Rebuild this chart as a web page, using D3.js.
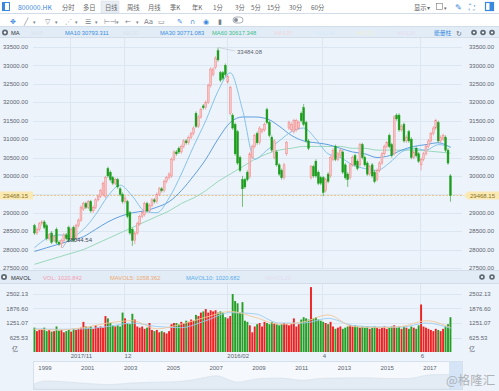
<!DOCTYPE html>
<html><head><meta charset="utf-8">
<script src="https://cdn.jsdelivr.net/npm/d3@7/dist/d3.min.js"></script>
<style>
body{margin:0;background:#fff}
svg{display:block;font-family:"Liberation Sans",Arial,"Noto Sans CJK SC",sans-serif}
</style>
</head><body><div id="chart"></div>
<script>
// daily candles
var opens = [28650,28450,28550,28700,28750,28650,28300,28450,28250,28550,
28200,28150,28250,28400,28600,28300,28600,28300,28650,28800,
29100,29250,29150,29300,29050,29150,29350,29450,29500,29450,
30200,30100,29950,29800,29900,29650,29500,29300,29300,29000,
28550,28250,28450,28700,28900,28950,29250,29050,29200,29350,
29300,29500,29650,29600,29850,29950,30000,30450,30650,30750,
30650,30800,30950,30900,31050,31150,31700,31350,31600,31900,
31850,32000,32450,32750,32950,33400,32800,32800,33000,32550,
31700,31650,31400,31200,30500,29900,29900,30100,29980,30500,
30800,31150,30900,31200,31250,31800,31450,31050,30500,30650,
30300,30150,29950,30600,31300,31250,31200,31250,31300,31700,
31850,31450,30950,29950,30250,30400,30100,29950,29950,29600,
30050,30000,30450,30800,30450,30550,30650,30300,30050,29950,
30300,30550,30400,30300,30850,30500,30350,30050,30300,30100,
29900,30150,30350,30600,30800,31100,30850,30600,31650,31650,
31250,31400,30950,31200,31000,30500,30750,30600,30300,30450,
30600,30800,30950,31150,31300,31450,30950,31000,31050,30700,30000];
var closes = [28450,28550,28700,28750,28600,28300,28400,28200,28350,28200,
28150,28250,28400,28300,28250,28550,28250,28650,28800,29150,
29250,29150,29300,29050,29150,29350,29450,29600,29800,29950,
30000,29900,29800,29900,29700,29500,29300,29400,28900,28450,
28250,28450,28700,28900,29000,29250,29050,29200,29350,29300,
29500,29650,29600,29850,29950,30050,30450,30650,30600,30650,
30800,30950,30900,31050,31150,31300,31350,31600,31800,31850,
32000,32450,32900,32900,33200,33150,32600,32650,32750,32700,
32400,31300,30600,30350,30150,29650,29700,29900,30600,30800,
31100,30900,31300,31250,31400,31450,31100,30700,30950,30300,
30050,29950,30300,30900,31450,31400,31500,31500,31450,31500,
31400,30950,30750,30250,30000,30000,29800,29800,29550,29900,
29850,30500,30700,30450,30600,30700,30100,29950,29900,30300,
30500,30300,30200,30850,30500,30300,30050,30250,30000,29850,
30150,30350,30600,30800,30900,30800,30550,31600,31550,31250,
31350,30950,31050,30950,30500,30650,30550,30400,30450,30600,
30800,30950,31150,31300,31500,30950,31050,31100,30700,30350,29468.15];
var highs = [28700,28600,28750,28800,28800,28700,28450,28500,28400,28600,
28250,28300,28450,28450,28650,28600,28650,28700,28850,29200,
29300,29300,29350,29350,29200,29400,29500,29650,29850,30000,
30250,30150,30000,29950,29950,29700,29550,29450,29350,29050,
28600,28500,28750,28950,29050,29300,29300,29250,29400,29400,
29550,29700,29700,29900,30000,30100,30500,30700,30700,30800,
30850,31000,31000,31100,31200,31350,31750,31650,31850,31950,
32050,32500,32950,32950,33250,33484.08,32850,32850,33050,32750,
32450,31700,31450,31250,30550,30000,29950,30150,30650,30850,
31150,31200,31350,31300,31450,31850,31500,31100,31000,30700,
30350,30200,30350,30950,31500,31450,31550,31550,31500,31750,
31950,31500,31000,30300,30300,30450,30150,30000,30000,29950,
30100,30550,30750,30850,30650,30750,30700,30350,30100,30350,
30550,30600,30450,30900,30900,30550,30400,30300,30350,30150,
30200,30400,30650,30850,30950,31150,30900,31650,31700,31700,
31400,31450,31100,31250,31050,30700,30800,30650,30500,30650,
30850,31000,31200,31350,31550,31500,31100,31150,31100,30750,30050];
var lows = [28400,28400,28500,28650,28550,28250,28250,28150,28200,28150,
28100,28044.54,28200,28250,28200,28250,28200,28250,28600,28750,
29050,29100,29100,29000,29000,29100,29300,29400,29450,29400,
29950,29850,29750,29750,29650,29450,29250,29250,28850,28400,
28100,28150,28400,28650,28850,28900,29000,29000,29150,29250,
29250,29450,29550,29550,29800,29900,29950,30400,30550,30600,
30600,30750,30850,30850,31000,31100,31300,31300,31550,31800,
31800,31950,32400,32700,32900,33100,32550,32600,32700,32500,
31650,31250,30550,30300,30100,29160,29650,29850,29930,30450,
30750,30850,30850,31150,31200,31400,31050,30650,30450,30250,
30000,29900,29900,30550,31250,31200,31150,31200,31250,31450,
31350,30900,30700,29900,29950,29950,29750,29750,29450,29550,
29800,29950,30400,30400,30400,30500,30050,29900,29700,29900,
30250,30250,30150,30250,30450,30250,30000,30000,29950,29800,
29850,30100,30300,30550,30750,30750,30500,30550,31500,31200,
31200,30900,30900,30900,30450,30450,30500,30350,30150,30400,
30550,30750,30900,31100,31250,30900,30900,30950,30650,30300,29300];
// volume, 亿
var volumes = [1050,900,950,1000,1050,900,950,880,900,1100,920,950,
850,900,950,880,1000,950,
1000,1050,1300,1100,1050,1100,1000,1150,1050,1100,
1050,1550,1450,1250,1150,1100,
1150,1100,1700,1450,1250,1200,1650,
1400,1100,1050,1100,1000,1050,1250,950,900,950,
850,900,850,800,900,1200,1250,
1250,1200,1300,1250,1350,1300,1400,1350,
1600,1550,1700,1750,1850,1700,1800,
1750,1800,1700,1750,1700,1500,1450,1550,
2500,2200,2100,1700,2150,1350,1300,
1150,850,1100,1200,1250,1100,1300,1250,
1200,1300,1250,1200,1150,1200,1250,1200,
1150,1200,1450,1100,1200,1400,1500,1450,
1400,2800,1450,1500,1400,1350,1300,
1250,1200,1300,1100,1000,1050,1100,1000,1050,
1100,1150,1100,1150,1100,1050,1100,1050,1100,1000,1050,1100,1050,
1000,1050,1100,1000,1050,1100,1150,1050,1100,1000,1100,1050,1000,1100,1050,1000,1150,
2050,1100,1050,1000,950,900,1000,950,900,1000,1100,1200,1500];

// moving averages sampled every 5 bars
var maIdx = [0,5,10,15,20,25,30,35,40,45,50,55,60,65,70,75,80,85,90,95,100,105,110,115,120,125,130,135,140,145,150,155,160,165,170];
var ma10 = [28050,28300,28400,28350,28550,28950,29450,29750,29450,29050,29000,29400,30050,30800,31500,32300,32800,31800,30450,30700,30950,31200,31300,31000,30600,30500,30300,30200,30150,30350,30650,30750,30700,30850,30793];
var ma30 = [27950,28050,28150,28250,28350,28550,28750,28900,29000,29050,29150,29300,29600,30000,30450,31000,31450,31600,31600,31550,31350,31100,30950,30900,30850,30750,30650,30600,30500,30550,30700,30800,30850,30900,30771];
var ma60 = [27600,27700,27800,27900,28000,28150,28300,28450,28600,28750,28900,29050,29250,29400,29600,29850,30050,30250,30450,30600,30700,30750,30800,30800,30800,30800,30750,30750,30700,30700,30700,30700,30680,30650,30617];
// volume averages sampled every 10 bars
var volMaIdx = [0,10,20,30,40,50,60,70,80,90,100,110,120,130,140,150,160,170];
var mavol5 = [980,950,1050,1250,1350,1000,1200,1500,1750,1500,1200,1300,1600,1100,1050,1100,1350,1058];
var mavol10 = [1000,980,1000,1100,1250,1100,1050,1350,1700,1650,1250,1250,1450,1150,1080,1070,1250,1021];

var priceTicks = [27500,28000,28500,29000,29500,30000,30500,31000,31500,32000,32500,33000,33500];
var volTicks = [625.53,1251.07,1876.60,2502.13];
var monthIdx = [15,37,79,118,158];
var monthLabels = ["2017/11","12","2016/02","4","6"];
var lastPrice = 29468.15;

// navigator (long history)
var navYears = [1998,1999,2000,2001,2002,2003,2004,2005,2006,2007,2008,2009,2010,2011,2012,2013,2014,2015,2016,2017,2018];
var navValues = [10000,16900,15000,11400,9300,12500,14200,14900,19900,27800,14400,21800,23000,18400,22600,23300,23600,21900,22000,29900,30500];
var navLabels = [1999,2001,2003,2005,2007,2009,2011,2013,2015,2017];

var tabs = ["分时","多日","日线","周线","月线","季K","年K","1分","3分","5分","15分","30分","60分"];
var tabX = [62,83,105,127,148,170,192,213,235,251,267,289,311];

var W = 499, H = 391, N = closes.length;
var svg = d3.select("#chart").append("svg").attr("width", W).attr("height", H);

var bg = "#edf3fa", bar = "#e2ecf7", grid = "#dce6f1", axisText = "#5a6470";

// panels
svg.append("rect").attr("width", W).attr("height", H).attr("fill", "#fff");
svg.append("rect").attr("x", 0).attr("y", 27).attr("width", W).attr("height", 11).attr("fill", bar);
svg.append("rect").attr("x", 0).attr("y", 38).attr("width", W).attr("height", 233).attr("fill", bg);
svg.append("rect").attr("x", 0).attr("y", 271).attr("width", W).attr("height", 12).attr("fill", bar);
svg.append("rect").attr("x", 0).attr("y", 283).attr("width", W).attr("height", 108).attr("fill", bg);
[13.5, 26.5, 37.5, 270.5, 283.5].forEach(function(y) {
    svg.append("line").attr("x1", 0).attr("x2", W).attr("y1", y).attr("y2", y).attr("stroke", "#d2dde9");
});

// scales
var x = d3.scaleBand().domain(d3.range(N)).range([33, 33 + N * 2.45]).padding(0.22);
var step = x.step();
var cx = function(i) { return x(i) + x.bandwidth() / 2; };
var y = d3.scaleLinear().domain([27500, 33500]).range([268, 47]);
var yv = d3.scaleLinear().domain([0, 2502.13]).range([352, 294]);

// grids
var gridG = svg.append("g").attr("stroke", grid).attr("stroke-width", 1);
priceTicks.forEach(function(t) {
    gridG.append("line").attr("x1", 33).attr("x2", 462).attr("y1", Math.round(y(t)) + 0.5).attr("y2", Math.round(y(t)) + 0.5);
});
volTicks.forEach(function(t) {
    gridG.append("line").attr("x1", 33).attr("x2", 462).attr("y1", Math.round(yv(t)) + 0.5).attr("y2", Math.round(yv(t)) + 0.5);
});
monthIdx.forEach(function(i) {
    var gx = Math.round(x(i) - step * 0.1) + 0.5;
    gridG.append("line").attr("x1", gx).attr("x2", gx).attr("y1", 38).attr("y2", 271);
    gridG.append("line").attr("x1", gx).attr("x2", gx).attr("y1", 284).attr("y2", 352);
});

// price axis labels
var fmt = d3.format(".2f");
var axG = svg.append("g").attr("font-size", 6).attr("fill", axisText);
priceTicks.forEach(function(t) {
    axG.append("text").attr("x", 28).attr("y", y(t)).attr("dy", "0.35em").attr("text-anchor", "end").text(fmt(t));
    axG.append("text").attr("x", 469).attr("y", y(t)).attr("dy", "0.35em").text(fmt(t));
});
volTicks.forEach(function(t) {
    axG.append("text").attr("x", 28).attr("y", yv(t)).attr("dy", "0.35em").attr("text-anchor", "end").text(fmt(t));
    axG.append("text").attr("x", 469).attr("y", yv(t)).attr("dy", "0.35em").text(fmt(t));
});
axG.append("text").attr("x", 12).attr("y", 349).attr("dy", "0.35em").text("亿");
axG.append("text").attr("x", 469).attr("y", 349).attr("dy", "0.35em").text("亿");

// month labels
monthIdx.forEach(function(i, k) {
    axG.append("text").attr("x", x(i) + 0.5).attr("y", 358).text(monthLabels[k]);
});

// last price line
var yl = y(lastPrice);
svg.append("line").attr("x1", 33).attr("x2", 464).attr("y1", yl).attr("y2", yl)
    .attr("stroke", "#e6c27a").attr("stroke-dasharray", "2,1.5").attr("stroke-width", 0.9);
svg.append("rect").attr("x", 0).attr("y", yl - 4).attr("width", 33).attr("height", 8).attr("fill", "#fbe9b4");
svg.append("text").attr("x", 28).attr("y", yl).attr("dy", "0.35em").attr("text-anchor", "end")
    .attr("font-size", 6).attr("fill", "#8a7424").text(fmt(lastPrice));
svg.append("path").attr("d", "M464," + yl + "L468," + (yl - 4) + "H499V" + (yl + 4) + "H468Z").attr("fill", "#fbe9b4");
svg.append("text").attr("x", 470).attr("y", yl).attr("dy", "0.35em")
    .attr("font-size", 6).attr("fill", "#8a7424").text(fmt(lastPrice));

// moving averages
var line = d3.line().x(function(d) { return cx(d[0]); }).y(function(d) { return y(d[1]); }).curve(d3.curveMonotoneX);
[[ma60, "#8fd4b4"], [ma30, "#4f95dc"], [ma10, "#78bde9"]].forEach(function(m) {
    svg.append("path").datum(maIdx.map(function(i, k) { return [i, m[0][k]]; }))
        .attr("fill", "none").attr("stroke", m[1]).attr("stroke-width", 0.9).attr("d", line);
});

// candles
var up = function(i) { return closes[i] >= opens[i]; };
var cg = svg.append("g").selectAll("g").data(d3.range(N)).enter().append("g");
cg.append("line")
    .attr("x1", cx).attr("x2", cx)
    .attr("y1", function(i) { return y(highs[i]); })
    .attr("y2", function(i) { return y(lows[i]); })
    .attr("stroke", function(i) { return up(i) ? "#f07a7a" : "#1c9d1c"; })
    .attr("stroke-width", 0.6);
cg.append("rect")
    .attr("x", function(i) { return x(i); })
    .attr("width", x.bandwidth())
    .attr("y", function(i) { return y(Math.max(opens[i], closes[i])); })
    .attr("height", function(i) { return Math.max(0.8, Math.abs(y(opens[i]) - y(closes[i]))); })
    .attr("fill", function(i) { return up(i) ? "#f9c4c4" : "#1c9d1c"; })
    .attr("stroke", function(i) { return up(i) ? "#f07a7a" : "#1c9d1c"; })
    .attr("stroke-width", 0.4);

// high / low marks
var hiI = highs.indexOf(d3.max(highs)), loI = lows.indexOf(d3.min(lows));
svg.append("line").attr("x1", cx(hiI) + 1).attr("y1", y(highs[hiI])).attr("x2", 235).attr("y2", 51)
    .attr("stroke", "#b8c2cc").attr("stroke-width", 0.6);
svg.append("text").attr("x", 237).attr("y", 54).attr("font-size", 6).attr("fill", "#5d6670").text(fmt(highs[hiI]));
svg.append("line").attr("x1", cx(loI) + 1).attr("y1", y(lows[loI])).attr("x2", 67).attr("y2", 241)
    .attr("stroke", "#8a96a4").attr("stroke-width", 0.6);
svg.append("text").attr("x", 67).attr("y", 242).attr("font-size", 6).attr("fill", "#3e4a5a").text(fmt(lows[loI]));

// volume bars
svg.append("g").selectAll("rect").data(d3.range(N)).enter().append("rect")
    .attr("x", function(i) { return x(i); })
    .attr("width", x.bandwidth())
    .attr("y", function(i) { return yv(volumes[i]); })
    .attr("height", function(i) { return yv(0) - yv(volumes[i]); })
    .attr("fill", function(i) { return up(i) ? "#ee2020" : "#259e25"; });

var vline = d3.line().x(function(d) { return cx(d[0]); }).y(function(d) { return yv(d[1]); }).curve(d3.curveMonotoneX);
[[mavol10, "#9ccdf0"], [mavol5, "#f2c79a"]].forEach(function(m) {
    svg.append("path").datum(volMaIdx.map(function(i, k) { return [i, m[0][k]]; }))
        .attr("fill", "none").attr("stroke", m[1]).attr("stroke-width", 0.9).attr("d", vline);
});

// navigator
svg.append("rect").attr("x", 33.5).attr("y", 361.5).attr("width", 429).attr("height", 28)
    .attr("fill", "#f5f8fc").attr("stroke", "#d6e0eb");
var xn = d3.scaleLinear().domain([1999, 2017]).range([45, 430]);
var yn = d3.scaleLinear().domain([0, 40000]).range([389, 370]);
svg.append("path").datum(navYears)
    .attr("fill", "#e3ebf4").attr("stroke", "#d3deea").attr("stroke-width", 0.6)
    .attr("d", d3.area().x(function(d) { return Math.max(34, Math.min(462, xn(d))); })
        .y0(389).y1(function(d, k) { return yn(navValues[k]); }).curve(d3.curveMonotoneX));
svg.append("rect").attr("x", 449).attr("y", 362).attr("width", 13).attr("height", 27).attr("fill", "#cfe2f6").attr("opacity", 0.85);
navLabels.forEach(function(yr) {
    svg.append("text").attr("x", xn(yr)).attr("y", 370).attr("text-anchor", "middle")
        .attr("font-size", 6).attr("fill", axisText).text(yr);
});

// watermark
svg.append("text").attr("x", 446).attr("y", 385).attr("font-size", 12.5)
    .attr("font-family", "Noto Sans CJK SC").attr("fill", "#a9adb2").attr("opacity", 0.9).text("@格隆汇");

// toolbar row 1
var tb = svg.append("g").attr("font-family", "Noto Sans CJK SC, Liberation Sans").attr("font-size", 6.3).attr("fill", "#666");
tb.append("rect").attr("x", 2.5).attr("y", 2.5).attr("width", 7).attr("height", 8).attr("fill", "none").attr("stroke", "#3b88de");
tb.append("rect").attr("x", 2.5).attr("y", 2.5).attr("width", 2.5).attr("height", 8).attr("fill", "#3b88de");
tb.append("text").attr("x", 18).attr("y", 9.5).attr("font-size", 6.8).attr("fill", "#3b88de").text("800000.HK");
tb.append("rect").attr("x", 101).attr("y", 1).attr("width", 18).attr("height", 12).attr("fill", "#e9eef4").attr("stroke", "#d3dae2").attr("stroke-width", 0.5);
tabs.forEach(function(t, k) {
    tb.append("text").attr("x", tabX[k]).attr("y", 9.5).text(t);
});
tb.append("text").attr("x", 414).attr("y", 9.5).text("显示▾");
tb.append("rect").attr("x", 436.5).attr("y", 3.5).attr("width", 6).attr("height", 6).attr("fill", "none").attr("stroke", "#777").attr("stroke-width", 0.6);
tb.append("text").attr("x", 444).attr("y", 9.5).attr("font-size", 5).text("▾");
tb.append("text").attr("x", 455).attr("y", 10).attr("font-size", 8).attr("fill", "#3b88de").text("✎");
tb.append("text").attr("x", 469).attr("y", 10).attr("font-size", 8).attr("fill", "#3b88de").text("⛶");
tb.append("rect").attr("x", 485.5).attr("y", 2.5).attr("width", 8).attr("height", 8).attr("fill", "none").attr("stroke", "#3b88de").attr("stroke-width", 1.2);
tb.append("rect").attr("x", 489.5).attr("y", 2.5).attr("width", 4).attr("height", 8).attr("fill", "#3b88de");

// toolbar row 2 (drawing tools)
var t2 = svg.append("g").attr("font-family", "DejaVu Sans").attr("font-size", 7).attr("fill", "#7a818a");
var tools = [["✥", 10, "#3b88de"], ["╱", 24, null], ["▾", 33, null], ["▽", 45, null], ["▾", 55, null], ["⋰", 65, null], ["▾", 75, null],
    ["☰", 85, null], ["▾", 95, null], ["⊢⊣", 104, null], ["▾", 116, null], ["←", 125, null], ["▾", 136, null], ["Aa", 144, null],
    ["▭", 158, null], ["✎", 177, "#3b88de"], ["∩", 190, "#3b88de"], ["◉", 203, "#3b88de"], ["▮", 218, null]];
tools.forEach(function(t) {
    t2.append("text").attr("x", t[1]).attr("y", 23.5).attr("font-size", t[0] === "▾" ? 5 : 7)
        .attr("fill", t[2] || "#7a818a").text(t[0]);
});
t2.append("rect").attr("x", 233).attr("y", 17).attr("width", 10).attr("height", 6).attr("rx", 3).attr("fill", "none").attr("stroke", "#8a9099").attr("stroke-width", 0.7);
t2.append("circle").attr("cx", 236).attr("cy", 20).attr("r", 2).attr("fill", "#8a9099");

// MA legend row
var lg = svg.append("g").attr("font-size", 5.8);
lg.append("circle").attr("cx", 5).attr("cy", 32.5).attr("r", 3).attr("fill", "#5f6a77");
lg.append("circle").attr("cx", 5).attr("cy", 32.5).attr("r", 1.2).attr("fill", "#fff");
lg.append("text").attr("x", 11).attr("y", 35).attr("fill", "#333").text("MA");
lg.append("text").attr("x", 31).attr("y", 35).attr("fill", "#d9e2ec").text("MA5");
lg.append("text").attr("x", 65).attr("y", 35).attr("fill", "#3a8fe0").text("MA10  30793.311");
lg.append("text").attr("x", 123).attr("y", 35).attr("fill", "#d9e2ec").text("MA20");
lg.append("text").attr("x", 160).attr("y", 35).attr("fill", "#3a8fe0").text("MA30  30771.083");
lg.append("text").attr("x", 212).attr("y", 35).attr("fill", "#3cbf8a").text("MA60  30617.348");
[[274, "#f2d6dc"], [316, "#d6eaf7"], [356, "#eef0d8"], [397, "#e6dcf2"]].forEach(function(f) {
    lg.append("text").attr("x", f[0]).attr("y", 35).attr("fill", f[1]).text("MA120");
});
lg.append("text").attr("x", 434).attr("y", 35).attr("font-family", "Noto Sans CJK SC").attr("fill", "#3a8fe0").text("能量柱");
lg.append("text").attr("x", 456).attr("y", 35.5).attr("font-family", "DejaVu Sans").attr("font-size", 7).attr("fill", "#5f6a77").text("↻");
[474, 483, 492].forEach(function(cxx) {
    lg.append("circle").attr("cx", cxx).attr("cy", 32.5).attr("r", 2.8).attr("fill", "#5f6a77");
    lg.append("circle").attr("cx", cxx).attr("cy", 32.5).attr("r", 1.1).attr("fill", "#fff");
});

// MAVOL legend row
var vl = svg.append("g").attr("font-size", 5.8);
vl.append("circle").attr("cx", 4).attr("cy", 277).attr("r", 3).attr("fill", "#5f6a77");
vl.append("circle").attr("cx", 4).attr("cy", 277).attr("r", 1.2).attr("fill", "#fff");
vl.append("text").attr("x", 11).attr("y", 279.5).attr("fill", "#333").text("MAVOL");
vl.append("text").attr("x", 43).attr("y", 279.5).attr("fill", "#f2a0b0").text("VOL: 1020.842");
vl.append("text").attr("x", 110).attr("y", 279.5).attr("fill", "#eeaa70").text("MAVOL5: 1058.362");
vl.append("text").attr("x", 186).attr("y", 279.5).attr("fill", "#5aaee8").text("MAVOL10: 1020.682");
vl.append("text").attr("x", 265).attr("y", 279.5).attr("fill", "#e4dcef").text("MAVOL20");
[482, 492].forEach(function(cxx) {
    vl.append("circle").attr("cx", cxx).attr("cy", 277).attr("r", 2.8).attr("fill", "#5f6a77");
    vl.append("circle").attr("cx", cxx).attr("cy", 277).attr("r", 1.1).attr("fill", "#fff");
});
</script>
</body></html>
